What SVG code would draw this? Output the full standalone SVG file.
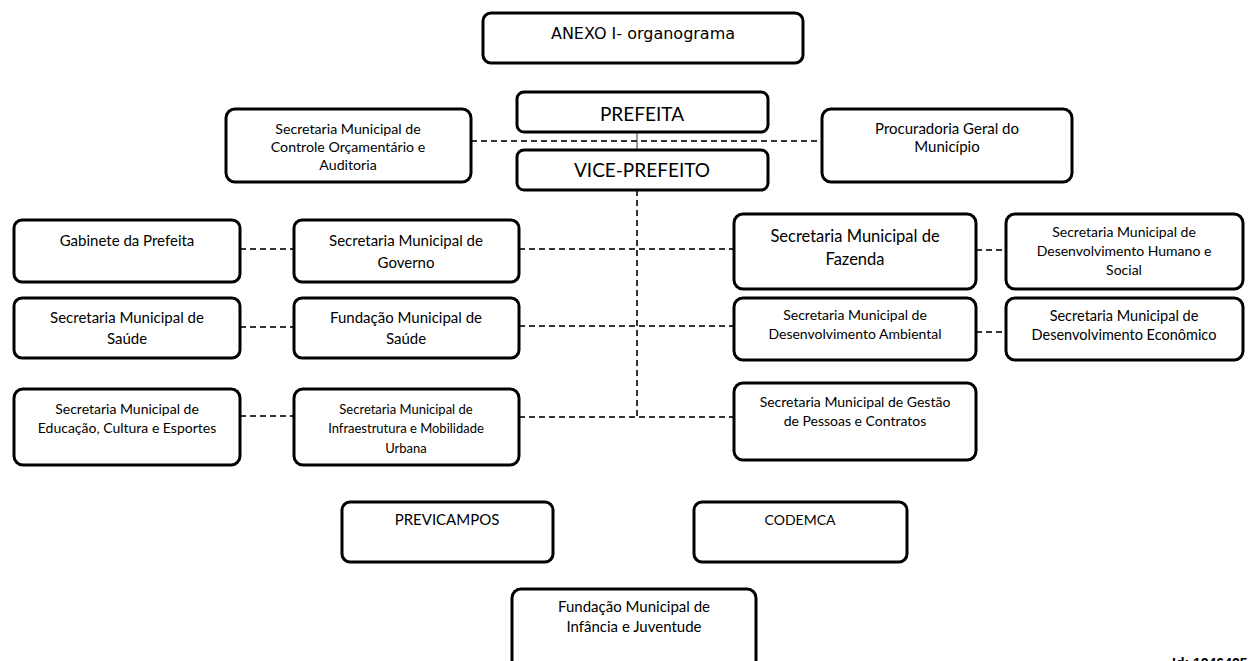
<svg xmlns="http://www.w3.org/2000/svg" width="1257" height="661" viewBox="0 0 1257 661">
<style>
.box{fill:#fff;stroke:#000;stroke-width:3}
.t{font-family:Lato,"Liberation Sans",sans-serif;fill:#000;text-anchor:middle}
.dash{stroke:#333;stroke-width:2;stroke-dasharray:6 4;fill:none}
.solid{stroke:#333;stroke-width:1;fill:none}
</style>
<rect width="1257" height="661" fill="#fff"/>
<g id="connectors">
<line class="solid" x1="637" y1="132" x2="637" y2="150"/>
<line class="dash" x1="471" y1="141" x2="822" y2="141"/>
<line class="dash" x1="637" y1="190" x2="637" y2="417"/>
<line class="dash" x1="240" y1="249" x2="294" y2="249"/>
<line class="dash" x1="519" y1="249" x2="734" y2="249"/>
<line class="dash" x1="976" y1="250" x2="1006" y2="250"/>
<line class="dash" x1="240" y1="327" x2="294" y2="327"/>
<line class="dash" x1="519" y1="326" x2="734" y2="326"/>
<line class="dash" x1="976" y1="332" x2="1006" y2="332"/>
<line class="dash" x1="240" y1="416" x2="294" y2="416"/>
<line class="dash" x1="519" y1="417" x2="734" y2="417"/>
</g>
<g id="anexo"><rect class="box" x="483" y="13" width="320" height="50" rx="8"/><text x="643" y="39" font-family="DejaVu Sans,Verdana,sans-serif" font-size="16" text-anchor="middle">ANEXO I- organograma</text></g>
<g id="prefeita"><rect class="box" x="517" y="92" width="251" height="40" rx="7"/><text class="t" x="642" y="121" font-size="19">PREFEITA</text></g>
<g id="vice"><rect class="box" x="517" y="150" width="251" height="40" rx="7"/><text class="t" x="642" y="177" font-size="19">VICE-PREFEITO</text></g>
<g id="controle"><rect class="box" x="226" y="109" width="245" height="73" rx="9"/><text class="t" font-size="14.2"><tspan x="348" y="134">Secretaria Municipal de</tspan><tspan x="348" y="152">Controle Orçamentário e</tspan><tspan x="348" y="170">Auditoria</tspan></text></g>
<g id="procuradoria"><rect class="box" x="822" y="109" width="250" height="73" rx="9"/><text class="t" font-size="15"><tspan x="947" y="134">Procuradoria Geral do</tspan><tspan x="947" y="152">Município</tspan></text></g>
<g id="gabinete"><rect class="box" x="14" y="220" width="226" height="62" rx="8"/><text class="t" x="127" y="246" font-size="15">Gabinete da Prefeita</text></g>
<g id="governo"><rect class="box" x="294" y="220" width="225" height="62" rx="8"/><text class="t" font-size="15"><tspan x="406" y="246">Secretaria Municipal de</tspan><tspan x="406" y="268">Governo</tspan></text></g>
<g id="fazenda"><rect class="box" x="734" y="214" width="242" height="75" rx="9"/><text class="t" font-size="16.5"><tspan x="855" y="242">Secretaria Municipal de</tspan><tspan x="855" y="265">Fazenda</tspan></text></g>
<g id="dhs"><rect class="box" x="1006" y="214" width="237" height="75" rx="9"/><text class="t" font-size="14"><tspan x="1124" y="237">Secretaria Municipal de</tspan><tspan x="1124" y="256">Desenvolvimento Humano e</tspan><tspan x="1124" y="275">Social</tspan></text></g>
<g id="saude"><rect class="box" x="14" y="298" width="226" height="60" rx="8"/><text class="t" font-size="15"><tspan x="127" y="323">Secretaria Municipal de</tspan><tspan x="127" y="344">Saúde</tspan></text></g>
<g id="fundsaude"><rect class="box" x="294" y="298" width="225" height="60" rx="8"/><text class="t" font-size="15"><tspan x="406" y="323">Fundação Municipal de</tspan><tspan x="406" y="344">Saúde</tspan></text></g>
<g id="ambiental"><rect class="box" x="734" y="298" width="242" height="62" rx="9"/><text class="t" font-size="14"><tspan x="855" y="320">Secretaria Municipal de</tspan><tspan x="855" y="339">Desenvolvimento Ambiental</tspan></text></g>
<g id="economico"><rect class="box" x="1006" y="298" width="237" height="62" rx="9"/><text class="t" font-size="14.5"><tspan x="1124" y="321">Secretaria Municipal de</tspan><tspan x="1124" y="340">Desenvolvimento Econômico</tspan></text></g>
<g id="educacao"><rect class="box" x="14" y="389" width="226" height="76" rx="9"/><text class="t" font-size="14"><tspan x="127" y="414">Secretaria Municipal de</tspan><tspan x="127" y="433">Educação, Cultura e Esportes</tspan></text></g>
<g id="infra"><rect class="box" x="294" y="389" width="225" height="76" rx="9"/><text class="t" font-size="13"><tspan x="406" y="414">Secretaria Municipal de</tspan><tspan x="406" y="433">Infraestrutura e Mobilidade</tspan><tspan x="406" y="453">Urbana</tspan></text></g>
<g id="gestao"><rect class="box" x="734" y="383" width="242" height="77" rx="9"/><text class="t" font-size="14"><tspan x="855" y="407">Secretaria Municipal de Gestão</tspan><tspan x="855" y="426">de Pessoas e Contratos</tspan></text></g>
<g id="previcampos"><rect class="box" x="342" y="502" width="211" height="60" rx="8"/><text class="t" x="447" y="525" font-size="15">PREVICAMPOS</text></g>
<g id="codemca"><rect class="box" x="694" y="502" width="213" height="60" rx="8"/><text class="t" x="800" y="525" font-size="14">CODEMCA</text></g>
<g id="infancia"><rect class="box" x="512" y="589" width="244" height="85" rx="9"/><text class="t" font-size="15"><tspan x="634" y="612">Fundação Municipal de</tspan><tspan x="634" y="632">Infância e Juventude</tspan></text></g>
<text x="1172" y="668" font-family="Liberation Sans,Arial,sans-serif" font-size="14" font-weight="bold">Id: 1246425</text>
</svg>
